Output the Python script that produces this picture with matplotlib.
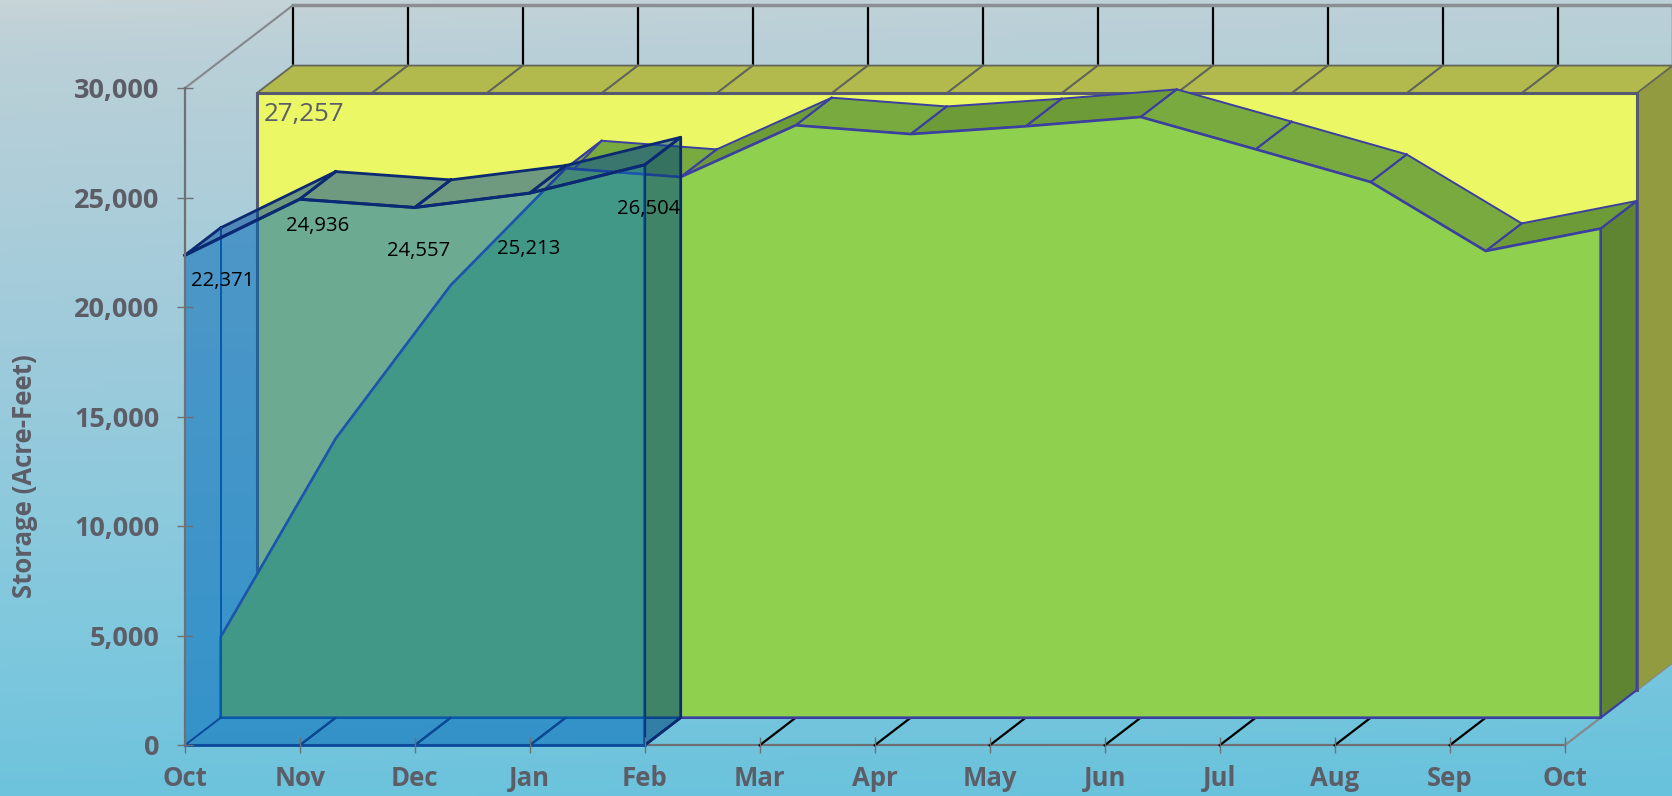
#plot.py

import numpy as np
import matplotlib
matplotlib.use("Agg")
import matplotlib.pyplot as plt
from matplotlib.colors import LinearSegmentedColormap

plt.rcParams['font.family'] = ['Open Sans', 'DejaVu Sans']

months = ['Oct', 'Nov', 'Dec', 'Jan', 'Feb', 'Mar', 'Apr', 'May', 'Jun', 'Jul', 'Aug', 'Sep', 'Oct']
y_ticks = [0, 5000, 10000, 15000, 20000, 25000, 30000]

# current water year, only runs to Feb
current_storage = [22371, 24936, 24557, 25213, 26504]
# average storage
average_storage = [3690, 12745, 19745, 25085, 24690, 27050, 26650, 27005, 27430, 25955, 24460, 21310, 22335]
# capacity, flat across the year
capacity_storage = [27257] * 13

current_labels = ['22,371', '24,936', '24,557', '25,213', '26,504']
capacity_label = '27,257'

# depth of one series in the fake 3D, in data units
DEPTH_X = 36.0 / 115.0
DEPTH_Y = 27.6 / 21.9 * 1000

W, H = 1672, 796
TEXT_GREY = '#5c5d66'
AXIS_GREY = '#6e7074'


def proj(x, y, layer):
    """Shift data points back by a number of depth layers."""
    return x + layer * DEPTH_X, y + layer * DEPTH_Y


def draw_ribbon(ax, values, front, colors, edge, lw, zorder, alpha=1.0):
    """Draw the slanted top surface of an area series, one piece per month."""
    for i in range(len(values) - 1):
        x0, y0 = proj(i, values[i], front)
        x1, y1 = proj(i + 1, values[i + 1], front)
        x2, y2 = proj(i + 1, values[i + 1], front + 1)
        x3, y3 = proj(i, values[i], front + 1)
        color = colors[0] if values[i + 1] >= values[i] else colors[1]
        ax.fill([x0, x1, x2, x3], [y0, y1, y2, y3], facecolor=color, edgecolor='none',
                alpha=alpha, clip_on=False, zorder=zorder)
        ax.plot([x3, x0, x1, x2, x3], [y3, y0, y1, y2, y3], color=edge, lw=lw,
                clip_on=False, zorder=zorder + 0.1, solid_joinstyle='round')


fig = plt.figure(figsize=(W / 100, H / 100), dpi=100)

# background gradient, light grey in the top left to cyan at the bottom
bg = fig.add_axes([0, 0, 1, 1], zorder=0)
yy, xx = np.mgrid[0:1:200j, 0:1:200j]
t = np.clip(yy * 0.94 + xx * 0.06, 0, 1)
cmap = LinearSegmentedColormap.from_list('bg', [(0, '#c6d4d7'), (0.06, '#bbd0d7'), (0.4, '#9fcbdb'),
                                                (0.75, '#80c8de'), (1, '#68c2dc')])
bg.imshow(t, cmap=cmap, vmin=0, vmax=1, aspect='auto', extent=[0, 1, 1, 0])
bg.axis('off')

ax = fig.add_axes([184.7 / W, (H - 745.3) / H, 1380 / W, 657 / H], zorder=1)
ax.patch.set_visible(False)
ax.set_xlim(0, 12)
ax.set_ylim(0, 30000)

n = np.arange(len(months))
current_x = np.arange(len(current_storage))

# back wall and its grid
wall_x, wall_y = proj(n, np.full(len(n), 30000), 3)
base_x, base_y = proj(n, np.array(capacity_storage), 3)
ax.vlines(wall_x, base_y, wall_y, color='black', lw=1.6, clip_on=False, zorder=1)
ax.plot(wall_x, wall_y, color='#8b8e92', lw=2.5, clip_on=False, zorder=1.1)

# left diagonal from the top of the y axis to the back wall
dx, dy = proj(np.array([0, 0]), np.array([30000, 30000]), np.array([0, 3]))
ax.plot(dx, dy, color='#85888c', lw=1.5, clip_on=False, zorder=1.1)

# floor grid
for i in n[1:-1]:
    fx, fy = proj(np.array([i, i]), np.array([0, 0]), np.array([0, 1]))
    ax.plot(fx, fy, color='black', lw=1.6, clip_on=False, zorder=1.2)
for layers in ([0, 1], [2, 3]):
    fx, fy = proj(np.array([12, 12]), np.array([0, 0]), np.array(layers))
    ax.plot(fx, fy, color='#85888c', lw=1.6, clip_on=False, zorder=1.2)

# capacity series, at the back
cap_x, cap_y = proj(n, np.array(capacity_storage), 2)
cap_bx, cap_by = proj(n, np.zeros(len(n)), 2)
draw_ribbon(ax, capacity_storage, 2, ('#b2b94d', '#b2b94d'), '#63665a', 1.3, 2)
sx, sy = proj(np.array([12, 12, 12, 12]), np.array([0, capacity_storage[-1], capacity_storage[-1], 0]),
              np.array([2, 2, 3, 3]))
ax.fill(sx, sy, facecolor='#939b40', edgecolor='none', clip_on=False, zorder=2)
ax.fill_between(cap_x, cap_by, cap_y, facecolor='#ebf764', edgecolor='none', clip_on=False, zorder=2.2)
ax.plot(np.r_[cap_x[0], cap_x, cap_x[-1]], np.r_[cap_by[0], cap_y, cap_by[-1]], color='#555a70', lw=2.2,
        clip_on=False, zorder=2.3)
ax.plot(sx[:2], sy[:2], color='#555a70', lw=2, clip_on=False, zorder=2.3)

# average series, in the middle
avg_edge = '#3b3fa0'
draw_ribbon(ax, average_storage, 1, ('#6d9b38', '#79aa3f'), avg_edge, 1.4, 3)
sx, sy = proj(np.array([12, 12, 12, 12]), np.array([0, average_storage[-1], average_storage[-1], 0]),
              np.array([1, 1, 2, 2]))
ax.fill(sx, sy, facecolor='#5f8533', edgecolor=avg_edge, lw=1.6, clip_on=False, zorder=3)
avg_x, avg_y = proj(n, np.array(average_storage), 1)
avg_bx, avg_by = proj(n, np.zeros(len(n)), 1)
ax.fill_between(avg_x, avg_by, avg_y, facecolor='#8fd14f', edgecolor='none', clip_on=False, zorder=3.4)
ax.plot(np.r_[avg_x[0], avg_x, avg_x[-1], avg_x[0]], np.r_[avg_by[0], avg_y, avg_by[-1], avg_by[0]],
        color=avg_edge, lw=1.9, clip_on=False, zorder=3.5)

# current series, see-through and in front
cur_edge = '#0b2a72'
cur_fill = '#0069b8'
cur_x, cur_y = proj(current_x, np.array(current_storage), 0)
draw_ribbon(ax, current_storage, 0, ('#00469a', '#00469a'), cur_edge, 2.0, 4, alpha=0.52)
bx, by = proj(current_x, np.zeros(len(current_x)), 1)
ax.plot(np.r_[bx[0], bx[0], bx[-1]], np.r_[proj(0, current_storage[0], 1)[1], by[0], by[-1]],
        color='#0a4a9c', lw=1.4, clip_on=False, zorder=4.2)
sx, sy = proj(np.array([4, 4, 4, 4]), np.array([0, current_storage[-1], current_storage[-1], 0]),
              np.array([0, 0, 1, 1]))
ax.fill(sx, sy, facecolor='#00457c', edgecolor='none', alpha=0.55, clip_on=False, zorder=4.3)
ax.plot(np.r_[sx, sx[0]], np.r_[sy, sy[0]], color=cur_edge, lw=2.0, clip_on=False, zorder=4.4)
ax.fill_between(cur_x, 0, cur_y, facecolor=cur_fill, edgecolor='none', alpha=0.54, clip_on=False, zorder=4.5)
for i in current_x[1:-1]:
    fx, fy = proj(np.array([i, i]), np.array([0, 0]), np.array([0, 1]))
    ax.plot(fx, fy, color='#0a4a9c', lw=1.4, clip_on=False, zorder=4.6)
fx, fy = proj(np.array([0, 0]), np.array([0, 0]), np.array([0, 1]))
ax.plot(fx, fy, color='#0a4a9c', lw=1.4, clip_on=False, zorder=4.6)
ax.plot(cur_x, cur_y, color=cur_edge, lw=2.2, clip_on=False, zorder=4.7)
ax.plot(cur_x, np.zeros(len(cur_x)), color='#0a4a9c', lw=2.0, clip_on=False, zorder=4.7)

# data labels, offsets in pixels from each point
label_offsets = [(38, -26), (18, -27), (4, -43), (-1, -56), (4, -44)]
for i, label in enumerate(current_labels):
    off = label_offsets[i]
    ax.annotate(label, xy=(cur_x[i], cur_y[i]), xytext=(off[0] * 0.72, off[1] * 0.72),
                textcoords='offset points', ha='center', va='center', fontsize=14.6,
                color='black', annotation_clip=False, zorder=6)
ax.annotate(capacity_label, xy=(cap_x[0], capacity_storage[0] + 2 * DEPTH_Y), xytext=(47 * 0.72, -21 * 0.72),
            textcoords='offset points', ha='center', va='center', fontsize=18.7,
            color=TEXT_GREY, annotation_clip=False, zorder=6)

# axes, ticks and the left spine sit on top of the see-through series
ax.set_xticks(n)
ax.set_xticklabels(months, fontweight='bold')
ax.set_yticks(y_ticks)
ax.set_yticklabels([f'{v:,}' for v in y_ticks], fontweight='bold')
ax.tick_params(axis='both', direction='inout', length=11.5, width=1.0, color=AXIS_GREY)
ax.tick_params(axis='x', pad=8.5, labelsize=18.5, labelcolor=TEXT_GREY)
ax.tick_params(axis='y', pad=12.5, labelsize=19.5, labelcolor=TEXT_GREY)
ax.xaxis.set_zorder(5)
ax.yaxis.set_zorder(5)
for side in ['top', 'right']:
    ax.spines[side].set_visible(False)
for side in ['left', 'bottom']:
    ax.spines[side].set_color(AXIS_GREY)
    ax.spines[side].set_linewidth(1.6)
ax.spines['left'].set_zorder(5)
ax.spines['bottom'].set_zorder(0.5)
ax.set_ylabel('Storage (Acre-Feet)', fontsize=18.5, fontweight='bold', color=TEXT_GREY)
ax.yaxis.set_label_coords(-0.106, 0.41)

fig.savefig('out.png', dpi=100)
